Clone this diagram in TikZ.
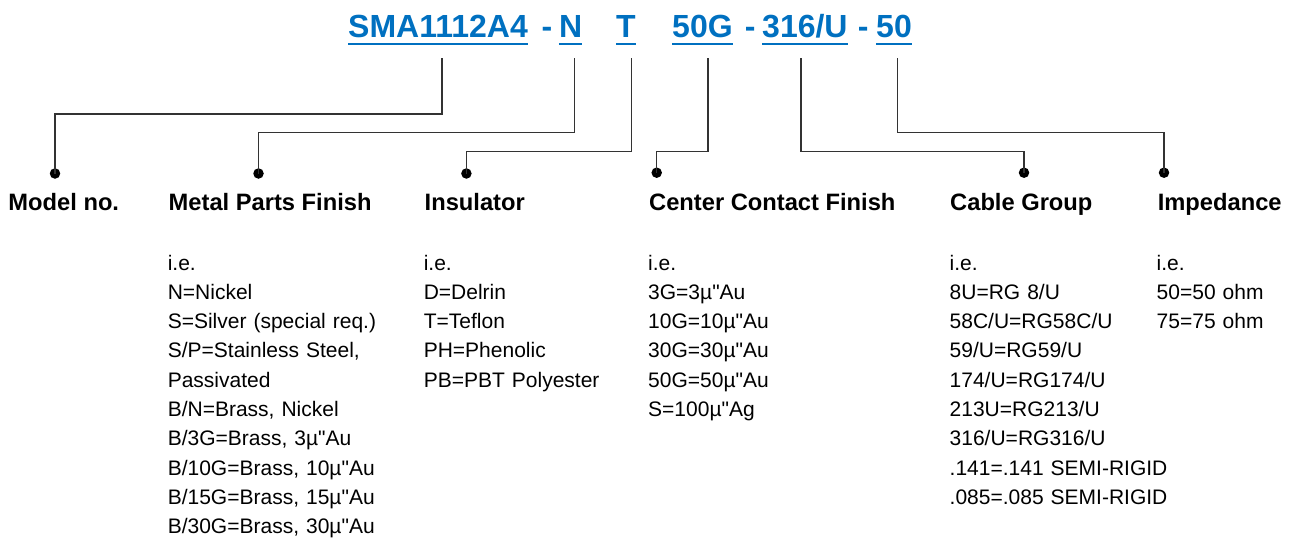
\documentclass[tikz,border=0pt]{standalone}
\usepackage{fontspec}
\setmainfont{Liberation Sans}
\definecolor{codeblue}{HTML}{0070C0}
\definecolor{linegray}{HTML}{333333}
\newcommand{\inq}{\textquotedbl}
\begin{document}
\begin{tikzpicture}[x=1pt,y=-1pt,
  code/.style={anchor=base west, inner sep=0pt, text=codeblue, font=\fontsize{32}{36}\selectfont\bfseries},
  uline/.style={draw=codeblue, line width=2pt},
  conn/.style={draw=linegray, line width=1.5pt},
  dotnode/.style={circle, fill=black, minimum size=10.5pt, inner sep=0pt},
  head/.style={anchor=base west, inner sep=0pt, font=\fontsize{23.7}{28}\selectfont\bfseries},
  listtext/.style={anchor=base west, inner sep=0pt, text width=260pt, align=left, font=\fontsize{21}{29.3}\selectfont}]
\useasboundingbox (0,0) rectangle (1295,538);

% part-number codes
\node[code] (cModel) at (348,37.3) {SMA1112A4};
\node[code] (dashA) at (541.5,37.3) {-};
\node[code] (cMetal) at (558.8,37.3) {N};
\node[code] (cIns) at (616,37.3) {T};
\node[code] (cCen) at (672,37.3) {50G};
\node[code] (dashB) at (744.7,37.3) {-};
\node[code] (cCab) at (762,37.3) {316/U};
\node[code] (dashC) at (857.7,37.3) {-};
\node[code] (cImp) at (876,37.3) {50};
\foreach \n in {cModel,cMetal,cIns,cCen,cCab,cImp}
  \draw[uline] ([yshift=-7pt]\n.base west) -- ([yshift=-7pt]\n.base east);

% connector tops
\coordinate (tModel) at (442,58);
\coordinate (tMetal) at (574.5,58);
\coordinate (tIns) at (631.7,58);
\coordinate (tCen) at (708,58);
\coordinate (tCab) at (801,58);
\coordinate (tImp) at (897.3,58);
% horizontal levels
\coordinate (hModel) at (0,114);
\coordinate (hMetal) at (0,132.3);
\coordinate (hIns) at (0,151.3);
\coordinate (hCen) at (0,151.7);
\coordinate (hCab) at (0,151.7);
\coordinate (hImp) at (0,132.7);
% dots
\node[dotnode] (pModel) at (55,173.5) {};
\node[dotnode] (pMetal) at (258.5,173.5) {};
\node[dotnode] (pIns) at (466.4,173.5) {};
\node[dotnode] (pCen) at (656.7,172.7) {};
\node[dotnode] (pCab) at (1024,172.7) {};
\node[dotnode] (pImp) at (1164,172.7) {};

\foreach \k in {Model,Metal,Ins,Cen,Cab,Imp}
  \draw[conn] (t\k) -- (t\k |- h\k) -| (p\k.center);

% headings
\node[head] (lModel) at (8.3,210) {Model no.};
\node[head] (lMetal) at (168.5,210) {Metal Parts Finish};
\node[head] (lIns) at (424.5,210) {Insulator};
\node[head] (lCen) at (649,210) {Center Contact Finish};
\node[head] (lCab) at (950,210) {Cable Group};
\node[head] (lImp) at (1157.6,210) {Impedance};

% lists
\node[listtext] (sMetal) at (167.6,270) {i.e.\\N=Nickel\\S=Silver (special req.)\\S/P=Stainless Steel,\\Passivated\\B/N=Brass, Nickel\\B/3G=Brass, 3µ\inq Au\\B/10G=Brass, 10µ\inq Au\\B/15G=Brass, 15µ\inq Au\\B/30G=Brass, 30µ\inq Au};
\node[listtext] (sIns) at (423.6,270) {i.e.\\D=Delrin\\T=Teflon\\PH=Phenolic\\PB=PBT Polyester};
\node[listtext] (sCen) at (648,270) {i.e.\\3G=3µ\inq Au\\10G=10µ\inq Au\\30G=30µ\inq Au\\50G=50µ\inq Au\\S=100µ\inq Ag};
\node[listtext] (sCab) at (949.5,270) {i.e.\\8U=RG 8/U\\58C/U=RG58C/U\\59/U=RG59/U\\174/U=RG174/U\\213U=RG213/U\\316/U=RG316/U\\.141=.141 SEMI-RIGID\\.085=.085 SEMI-RIGID};
\node[listtext] (sImp) at (1156.5,270) {i.e.\\50=50 ohm\\75=75 ohm};
\end{tikzpicture}
\end{document}
